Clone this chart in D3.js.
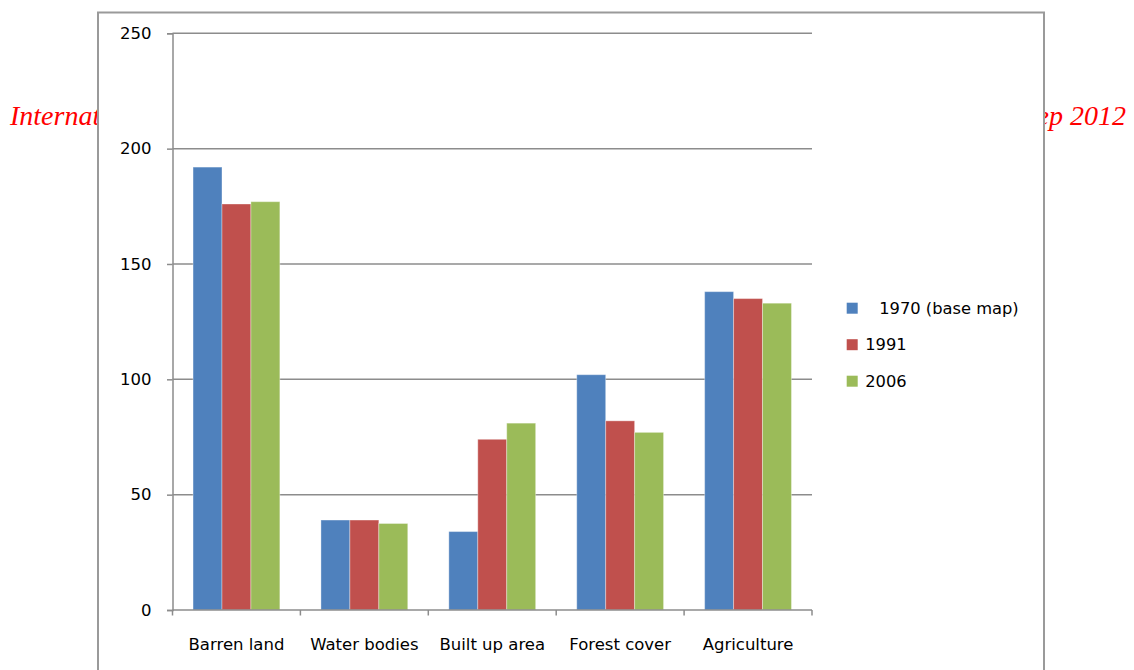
<!DOCTYPE html>
<html>
<head>
<meta charset="utf-8">
<script src="https://cdn.jsdelivr.net/npm/d3@7"></script>
<style>
  html, body { margin: 0; padding: 0; background: #fff; }
  svg { display: block; }
  .axis text { font-family: "DejaVu Sans", sans-serif; font-size: 16.5px; fill: #000; }
</style>
</head>
<body>
<svg id="chart" width="1134" height="670"></svg>
<script>
// Land use / land cover area by class and year
const categories = ["Barren land", "Water bodies", "Built up area", "Forest cover", "Agriculture"];
const seriesNames = ["1970 (base map)", "1991", "2006"];
const values1970 = [192, 39, 34, 102, 138];
const values1991 = [176, 39, 74, 82, 135];
const values2006 = [177, 37.5, 81, 77, 133];
const yTicks = [0, 50, 100, 150, 200, 250];
const colors = ["#4F81BD", "#C0504D", "#9BBB59"];

const series = [values1970, values1991, values2006];

const svg = d3.select("#chart");

// running header line of the page, partly hidden behind the chart frame
const headerStyle = sel => sel
  .attr("font-family", "Liberation Serif, serif")
  .attr("font-style", "italic")
  .attr("font-size", 28)
  .attr("fill", "#ff0000");
svg.append("text")
  .attr("x", 10).attr("y", 125)
  .call(headerStyle)
  .text("International");
svg.append("text")
  .attr("x", 1126).attr("y", 125)
  .attr("text-anchor", "end")
  .call(headerStyle)
  .text("Sep 2012");

// chart frame
svg.append("rect")
  .attr("x", 98).attr("y", 12.5)
  .attr("width", 946).attr("height", 700)
  .attr("fill", "#fff")
  .attr("stroke", "#9a9a9a")
  .attr("stroke-width", 2);

const plot = { left: 172.5, right: 812, top: 33.3, bottom: 610 };

const y = d3.scaleLinear().domain([0, 250]).range([plot.bottom, plot.top]);
const x = d3.scaleBand().domain(categories).range([plot.left, plot.right]).padding(0);
const xInner = d3.scaleBand().domain(d3.range(series.length))
  .range([0, x.bandwidth()]).paddingInner(0).paddingOuter(0.71);

// horizontal gridlines
svg.append("g")
  .selectAll("line")
  .data(yTicks.filter(t => t > 0))
  .join("line")
  .attr("x1", plot.left).attr("x2", plot.right)
  .attr("y1", d => y(d)).attr("y2", d => y(d))
  .attr("stroke", "#8c8c8c")
  .attr("stroke-width", 1.5);

// bars
const groups = svg.append("g")
  .selectAll("g")
  .data(categories)
  .join("g")
  .attr("transform", d => `translate(${x(d)},0)`);

groups.selectAll("rect")
  .data((c, i) => series.map((s, k) => ({ k, v: s[i] })))
  .join("rect")
  .attr("x", d => xInner(d.k))
  .attr("width", xInner.bandwidth())
  .attr("y", d => y(d.v))
  .attr("height", d => y(0) - y(d.v))
  .attr("fill", d => colors[d.k])
  .attr("stroke", "rgba(255,255,255,0.35)")
  .attr("stroke-width", 1);

// y axis
const yAxis = svg.append("g")
  .attr("class", "axis")
  .attr("transform", `translate(${plot.left},0)`)
  .call(d3.axisLeft(y).tickValues(yTicks).tickSize(5.5).tickPadding(15.5).tickFormat(d3.format("d")));
yAxis.select(".domain").attr("stroke", "#8c8c8c").attr("stroke-width", 1.5);
yAxis.selectAll(".tick line").attr("stroke", "#8c8c8c").attr("stroke-width", 1.5);

// x axis: labels centred in each band, ticks on band boundaries
const xAxis = svg.append("g")
  .attr("class", "axis")
  .attr("transform", `translate(0,${plot.bottom})`)
  .call(d3.axisBottom(x).tickSize(0).tickPadding(28));
xAxis.select(".domain").remove();
xAxis.append("line")
  .attr("x1", plot.left).attr("x2", plot.right)
  .attr("stroke", "#8c8c8c").attr("stroke-width", 1.5);
xAxis.selectAll(".boundary")
  .data(categories.map(c => x(c)).concat([plot.right]))
  .join("line")
  .attr("class", "boundary")
  .attr("x1", d => d).attr("x2", d => d)
  .attr("y1", 0).attr("y2", 5.5)
  .attr("stroke", "#8c8c8c").attr("stroke-width", 1.5);

// legend
const legend = svg.append("g").attr("transform", "translate(846.7,302.7)");
const legendItems = legend.selectAll("g")
  .data(seriesNames)
  .join("g")
  .attr("transform", (d, i) => `translate(0,${i * 36.5})`);
legendItems.append("rect")
  .attr("width", 11).attr("height", 11)
  .attr("fill", (d, i) => colors[i]);
legendItems.append("text")
  .attr("x", (d, i) => i === 0 ? 32.5 : 18.5)
  .attr("y", 5.5)
  .attr("dy", "0.35em")
  .attr("font-family", "DejaVu Sans, sans-serif")
  .attr("font-size", 16.3)
  .attr("fill", "#000")
  .text(d => d);
</script>
</body>
</html>
